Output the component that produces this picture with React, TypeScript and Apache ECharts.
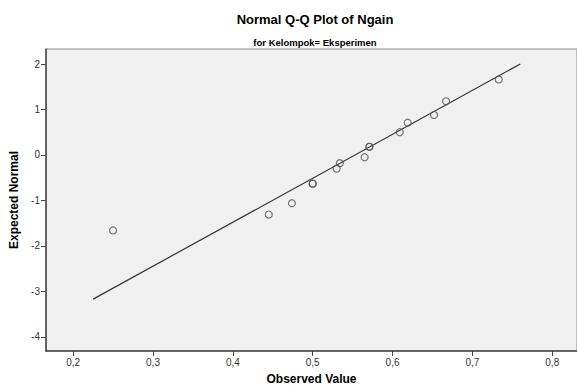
import React, { useEffect, useRef } from "react";
import * as echarts from "echarts";

const titleText = "Normal Q-Q Plot of Ngain";
const subtitleText = "for Kelompok= Eksperimen";
const xName = "Observed Value";
const yName = "Expected Normal";

const observed = [0.25, 0.445, 0.474, 0.5, 0.5, 0.53, 0.534, 0.565, 0.571, 0.571, 0.609, 0.619, 0.652, 0.667, 0.733];
const expected = [-1.66, -1.31, -1.06, -0.63, -0.63, -0.3, -0.18, -0.05, 0.18, 0.18, 0.5, 0.71, 0.88, 1.18, 1.66];

const lineX = [0.225, 0.76];
const lineY = [-3.17, 2.0];

const xTicks = [0.2, 0.3, 0.4, 0.5, 0.6, 0.7, 0.8];
const yTicks = [-4, -3, -2, -1, 0, 1, 2];

const FONT = "'Liberation Sans', Arial, sans-serif";

export default function App() {
  const ref = useRef<HTMLDivElement>(null);
  useEffect(() => {
    if (!ref.current) return;
    const chart = echarts.init(ref.current, undefined, { renderer: "svg" });
    chart.setOption({
      animation: false,
      backgroundColor: "#ffffff",
      textStyle: { fontFamily: FONT },
      title: [
        {
          text: titleText,
          left: 310,
          top: 8,
          textAlign: "center",
          textStyle: { fontFamily: FONT, fontSize: 13, fontWeight: "bold", color: "#000" },
        },
        {
          text: subtitleText,
          left: 310,
          top: 32,
          textAlign: "center",
          textStyle: { fontFamily: FONT, fontSize: 9.5, fontWeight: "bold", color: "#000" },
        },
      ],
      grid: {
        left: 46,
        top: 49,
        bottom: 35,
        right: -3,
        show: true,
        backgroundColor: "#f0f0f0",
        borderColor: "#8c8c8c",
        borderWidth: 1,
      },
      xAxis: {
        type: "value",
        min: 0.166,
        max: 0.831,
        name: xName,
        nameLocation: "middle",
        nameGap: 22,
        nameTextStyle: { fontFamily: FONT, fontSize: 12, fontWeight: "bold", color: "#000" },
        axisLine: { show: true, onZero: false, lineStyle: { color: "#444", width: 1.5 } },
        axisTick: { show: true, length: 5, customValues: xTicks, lineStyle: { color: "#444" } },
        axisLabel: {
          customValues: xTicks,
          fontFamily: FONT,
          fontSize: 10,
          color: "#333",
          margin: 6,
          formatter: (v: number) => v.toFixed(1).replace(".", ","),
        },
        splitLine: { show: false },
      },
      yAxis: {
        type: "value",
        min: -4.31,
        max: 2.33,
        name: yName,
        nameLocation: "middle",
        nameGap: 26,
        nameRotate: 90,
        nameTextStyle: { fontFamily: FONT, fontSize: 12, fontWeight: "bold", color: "#000" },
        axisLine: { show: true, onZero: false, lineStyle: { color: "#444", width: 1.5 } },
        axisTick: { show: true, length: 5, customValues: yTicks, lineStyle: { color: "#444" } },
        axisLabel: {
          customValues: yTicks,
          fontFamily: FONT,
          fontSize: 10,
          color: "#333",
          margin: 6,
          formatter: (v: number) => String(v),
        },
        splitLine: { show: false },
      },
      series: [
        {
          type: "line",
          data: lineX.map((x, i) => [x, lineY[i]]),
          symbol: "none",
          lineStyle: { color: "#333", width: 1.2 },
          z: 2,
        },
        {
          type: "scatter",
          data: observed.map((x, i) => [x, expected[i]]),
          symbol: "circle",
          symbolSize: 7,
          itemStyle: { color: "rgba(0,0,0,0)", borderColor: "#555", borderWidth: 1.2 },
          z: 3,
        },
      ],
    });
    return () => chart.dispose();
  }, []);
  return (
    <div
      ref={ref}
      style={{ position: "fixed", left: 0, top: 0, width: 577, height: 390 }}
    />
  );
}
